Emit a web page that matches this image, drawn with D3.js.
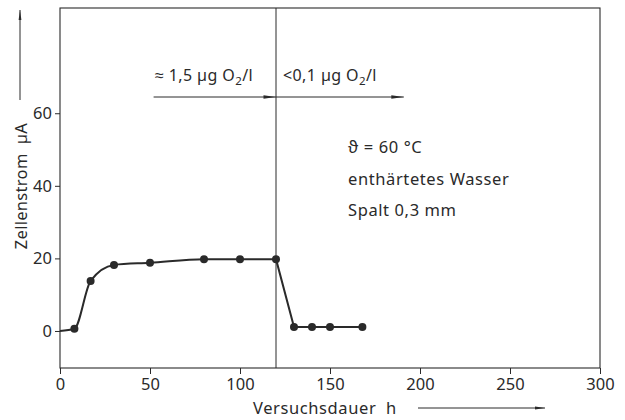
<!DOCTYPE html>
<html><head><meta charset="utf-8">
<script src="https://cdn.jsdelivr.net/npm/d3@7"></script>
<style>body{margin:0;background:#fff}svg{display:block}text{font-family:"Noto Sans",sans-serif;fill:#2a2a2a}</style>
</head><body><svg id="c" width="625" height="420"></svg>
<script>
const hours   = [0, 8, 17, 30, 50, 80, 100, 120, 130, 140, 150, 168];
const current = [0, 0.6, 13.8, 18.2, 18.8, 19.8, 19.8, 19.8, 1.1, 1.1, 1.1, 1.1];
const marked  = [false, true, true, true, true, true, true, true, true, true, true, true];
const xTicks = [0, 50, 100, 150, 200, 250, 300];
const yTicks = [0, 20, 40, 60];
const switchHour = 120;
const labelX = "Versuchsdauer  h";
const labelY = "Zellenstrom  µA";
const infoLines = ["ϑ = 60 °C", "enthärtetes Wasser", "Spalt 0,3 mm"];

const svg = d3.select("#c");
const ink = "#2a2a2a";
const L = 60, R = 600, T = 8, B = 368;
const x = d3.scaleLinear().domain([0, 300]).range([L, R]);
const y = d3.scaleLinear().domain([-10.2, 89]).range([B, T]);

const defs = svg.append("defs");
defs.append("marker").attr("id","ah").attr("viewBox","0 0 10 4")
  .attr("refX",10).attr("refY",2).attr("markerWidth",12).attr("markerHeight",4)
  .attr("markerUnits","userSpaceOnUse").attr("orient","auto")
  .append("path").attr("d","M0,0.6 L10,2 L0,3.4 Z").attr("fill",ink);
defs.append("marker").attr("id","ah2").attr("viewBox","0 0 10 4")
  .attr("refX",10).attr("refY",2).attr("markerWidth",16).attr("markerHeight",5)
  .attr("markerUnits","userSpaceOnUse").attr("orient","auto")
  .append("path").attr("d","M0,0.6 L10,2 L0,3.4 Z").attr("fill",ink);

// frame
svg.append("rect").attr("x",L).attr("y",T).attr("width",R-L).attr("height",B-T)
  .attr("fill","none").attr("stroke",ink).attr("stroke-width",1.1);

const xa = svg.append("g").attr("transform",`translate(0,${B})`)
  .call(d3.axisBottom(x).tickValues(xTicks).tickSize(6).tickPadding(4).tickFormat(d3.format("d")));
const ya = svg.append("g").attr("transform",`translate(${L},0)`)
  .call(d3.axisLeft(y).tickValues(yTicks).tickSize(5).tickPadding(3).tickFormat(d3.format("d")));
[xa, ya].forEach(a => {
  a.select(".domain").remove();
  a.selectAll("line").attr("stroke",ink).attr("stroke-width",1);
  a.selectAll("text").style("font-family","Noto Sans").style("font-size","16.5px").attr("fill",ink);
});

// vertical switch line
svg.append("line").attr("x1",x(switchHour)).attr("x2",x(switchHour)).attr("y1",T).attr("y2",B)
  .attr("stroke",ink).attr("stroke-width",1);

// curve
const pts = hours.map((h,i)=>({h, v: current[i], m: marked[i]}));
const line = d3.line().x(d=>x(d.h)).y(d=>y(d.v)).curve(d3.curveMonotoneX);
svg.append("path").datum(pts.slice(0,8)).attr("d",line).attr("fill","none").attr("stroke",ink).attr("stroke-width",2);
svg.append("path").datum(pts.slice(7)).attr("d",d3.line().x(d=>x(d.h)).y(d=>y(d.v))).attr("fill","none").attr("stroke",ink).attr("stroke-width",2);
svg.selectAll("circle.p").data(pts.filter(d=>d.m)).enter().append("circle")
  .attr("cx",d=>x(d.h)).attr("cy",d=>y(d.v)).attr("r",4).attr("fill",ink);

// oxygen annotations
const ay = 97;
svg.append("line").attr("x1",x(52)).attr("x2",x(switchHour)).attr("y1",ay).attr("y2",ay)
  .attr("stroke",ink).attr("stroke-width",1).attr("marker-end","url(#ah2)");
svg.append("line").attr("x1",x(switchHour)).attr("x2",x(191)).attr("y1",ay).attr("y2",ay)
  .attr("stroke",ink).attr("stroke-width",1).attr("marker-end","url(#ah2)");
function oxy(xp, pre){
  const t = svg.append("text").attr("x",xp).attr("y",81).style("font-size","16px").style("letter-spacing","0.4px");
  t.append("tspan").text(pre);
  t.append("tspan").attr("dy",4).style("font-size","11.5px").text("2");
  t.append("tspan").attr("dy",-4).text("/l");
}
oxy(155, "≈ 1,5 µg  O");
oxy(283, "<0,1 µg  O");

// info block
infoLines.forEach((s,i)=>{
  svg.append("text").attr("x",348).attr("y",153+i*31.5).style("font-size","16.5px")
    .style("letter-spacing","0.6px").text(s);
});

// axis labels with arrows
svg.append("text").attr("x",253).attr("y",414).style("font-size","16.5px").style("letter-spacing","0.6px")
  .attr("xml:space","preserve").text(labelX);
svg.append("line").attr("x1",418).attr("x2",545).attr("y1",408).attr("y2",408)
  .attr("stroke",ink).attr("stroke-width",1).attr("marker-end","url(#ah)");
svg.append("text").attr("transform","translate(27,186) rotate(-90)").attr("text-anchor","middle")
  .style("font-size","16.5px").style("letter-spacing","0.3px").attr("xml:space","preserve").text(labelY);
svg.append("line").attr("x1",20).attr("x2",20).attr("y1",100).attr("y2",10)
  .attr("stroke",ink).attr("stroke-width",1).attr("marker-end","url(#ah)");
</script></body></html>
